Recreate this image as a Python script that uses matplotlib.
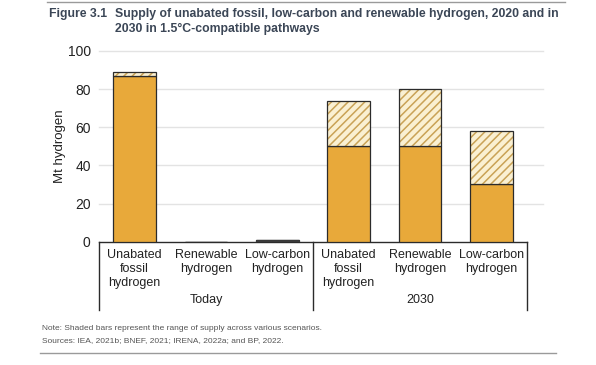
import matplotlib.pyplot as plt
from matplotlib.lines import Line2D

plt.rcParams['font.family'] = ['Liberation Sans', 'DejaVu Sans']
plt.rcParams['hatch.linewidth'] = 1.1

# values (Mt hydrogen)
categories = ["Unabated\nfossil\nhydrogen", "Renewable\nhydrogen", "Low-carbon\nhydrogen",
              "Unabated\nfossil\nhydrogen", "Renewable\nhydrogen", "Low-carbon\nhydrogen"]
groups = ["Today", "2030"]
base = [87, 0, 1, 50, 50, 30]      # solid part
top = [89, 0, 1, 74, 80, 58]       # upper end of the scenario range
yticks = [0, 20, 40, 60, 80, 100]

orange = '#E8A93A'
edge = '#2b2b2b'

fig = plt.figure(figsize=(5.96, 3.65), dpi=100)
ax = fig.add_axes([99 / 596, 123.3 / 365, 428 / 596, 190.7 / 365])

x = list(range(len(categories)))
rng = [t - b for t, b in zip(top, base)]

# gridlines (run a bit past the axis on the right, like the original)
for t in yticks[1:]:
    ax.plot([-0.5, 5.72], [t, t], color='#e3e3e3', lw=1, clip_on=False, zorder=0)

ax.bar(x, base, width=0.6, color=orange, edgecolor=edge, linewidth=0.9, zorder=3)
ax.bar(x, rng, bottom=base, width=0.6, color='#FAF0D2', edgecolor='#C9A256',
       hatch='////', linewidth=0, zorder=3)
ax.bar(x, rng, bottom=base, width=0.6, fill=False, edgecolor=edge, linewidth=0.9, zorder=4)
# the thin low-carbon bar of today reads as a dark sliver
ax.bar([2], [base[2]], width=0.6, color='#3a3a3a', edgecolor='#3a3a3a', linewidth=0.6, zorder=5)

ax.set_xlim(-0.5, 5.5)
ax.set_ylim(0, 100)
ax.set_yticks(yticks)
ax.tick_params(axis='y', length=0, labelsize=10, pad=6, colors='#222222')
ax.set_xticks([])
for s in ['top', 'right', 'left']:
    ax.spines[s].set_visible(False)
ax.spines['bottom'].set_color(edge)
ax.spines['bottom'].set_linewidth(1)
ax.set_ylabel('Mt hydrogen', fontsize=9.5, labelpad=1, color='#222222')

# category labels and group boxes below the axis
for i, lab in enumerate(categories):
    ax.text(i, -4, lab, ha='center', va='top', fontsize=9, linespacing=1.2,
            color='#222222', clip_on=False)
for gx, g in zip([1, 4], groups):
    ax.text(gx, -30.5, g, ha='center', va='center', fontsize=9, color='#222222')
for vx in [-0.5, 2.5, 5.5]:
    ax.add_line(Line2D([vx, vx], [0, -36], color=edge, lw=1, clip_on=False))

# title and notes
fig.add_artist(Line2D([47 / 596, 565 / 596], [1 - 2 / 365, 1 - 2 / 365],
                      color='#9a9a9a', lw=1))
title_col = '#3b4656'
fig.text(49 / 596, 1 - 14 / 365, 'Figure 3.1', fontsize=8.8, fontweight='bold',
         color=title_col, va='center')
fig.text(115 / 596, 1 - 21.5 / 365,
         'Supply of unabated fossil, low-carbon and renewable hydrogen, 2020 and in\n'
         '2030 in 1.5°C-compatible pathways',
         fontsize=8.8, fontweight='bold', color=title_col, va='center', linespacing=1.3)

fig.text(42 / 596, 1 - 328 / 365,
         'Note: Shaded bars represent the range of supply across various scenarios.',
         fontsize=6, color='#555555', va='center')
fig.text(42 / 596, 1 - 341 / 365,
         'Sources: IEA, 2021b; BNEF, 2021; IRENA, 2022a; and BP, 2022.',
         fontsize=6, color='#555555', va='center')
fig.add_artist(Line2D([40 / 596, 556 / 596], [1 - 353 / 365, 1 - 353 / 365],
                      color='#9a9a9a', lw=1))

fig.savefig('out.png', dpi=100)
